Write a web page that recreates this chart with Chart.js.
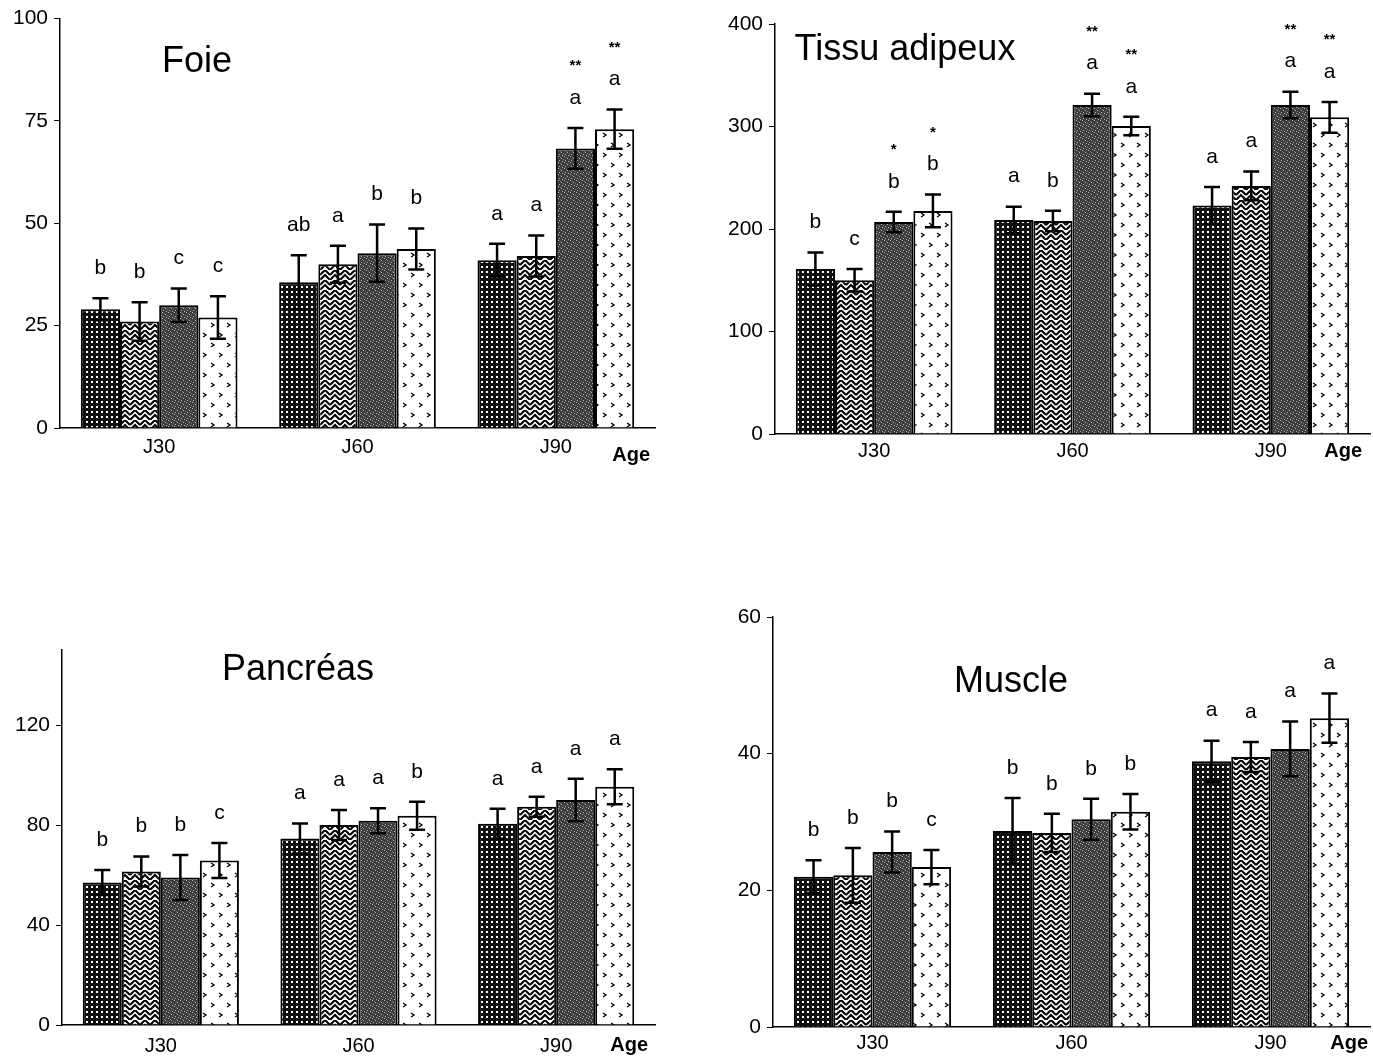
<!DOCTYPE html>
<html>
<head>
<meta charset="utf-8">
<title>Foie, Tissu adipeux, Pancréas, Muscle</title>
<script src="https://cdn.jsdelivr.net/npm/chart.js@4.4.1/dist/chart.umd.min.js"></script>
<style>
  body { margin: 0; background: #fff; }
  #wrap { position: relative; width: 1373px; height: 1058px; overflow: hidden; }
  canvas { position: absolute; }
</style>
</head>
<body>
<div id="wrap">
  <canvas id="foie" width="686" height="490" style="left:0;top:0"></canvas>
  <canvas id="tissu" width="687" height="490" style="left:686px;top:0"></canvas>
  <canvas id="pancreas" width="686" height="538" style="left:0;top:520px"></canvas>
  <canvas id="muscle" width="687" height="538" style="left:686px;top:520px"></canvas>
</div>
<script>
// age groups on the x axis
var ageGroups = ['J30', 'J60', 'J90'];

// one row per bar pattern (4 groups), one value per age
var foieMean = [[29, 35.6, 41], [26, 40, 42], [30, 42.7, 68.3], [27, 43.7, 73]];
var foieErr = [[2.7, 6.6, 4], [4.7, 4.5, 5], [4.1, 7, 5], [5.2, 5, 4.8]];
var foieLetters = [['b', 'ab', 'a'], ['b', 'a', 'a'], ['c', 'b', 'a'], ['c', 'b', 'a']];
var foieStars = [['', '', ''], ['', '', ''], ['', '', '**'], ['', '', '**']];

var tissuMean = [[161, 208.8, 223], [150, 207.8, 242], [206.8, 321, 321], [217.6, 300.5, 309]];
var tissuErr = [[16, 13, 18], [11, 10, 14], [10, 11, 13], [16, 9, 15]];
var tissuLetters = [['b', 'a', 'a'], ['c', 'b', 'a'], ['b', 'a', 'a'], ['b', 'a', 'a']];
var tissuStars = [['', '', ''], ['', '', ''], ['*', '**', '**'], ['*', '**', '**']];

var pancMean = [[57, 74.6, 80.5], [61.4, 80, 87.3], [59, 81.7, 90], [65.8, 83.7, 95.3]];
var pancErr = [[5, 6, 6], [6, 6, 4], [9, 5, 8.5], [7, 5.6, 7]];
var pancLetters = [['b', 'a', 'a'], ['b', 'a', 'a'], ['b', 'a', 'a'], ['c', 'b', 'a']];

var muscleMean = [[22, 28.7, 38.9], [22.2, 28.4, 39.5], [25.6, 30.4, 40.7], [23.4, 31.5, 45.2]];
var muscleErr = [[2.4, 4.8, 3], [4, 2.8, 2.2], [3, 3, 4], [2.5, 2.6, 3.6]];
var muscleLetters = [['b', 'b', 'a'], ['b', 'b', 'a'], ['b', 'b', 'a'], ['c', 'b', 'a']];

// y axis ranges (max, step) per panel
var foieAxis = [100, 25];
var tissuAxis = [400, 100];
var pancAxis = [150, 40];
var muscleAxis = [60, 20];

Chart.defaults.font.family = '"Liberation Sans", Arial, sans-serif';
Chart.defaults.color = '#000';

// hatch-like fills, done with small tiles
function tile(w, h, draw) {
    var c = document.createElement('canvas');
    c.width = w; c.height = h;
    var g = c.getContext('2d');
    draw(g);
    return g.createPattern(c, 'repeat');
}

var patterns = [
    // black with white dots
    tile(5, 5, function(g) {
        g.fillStyle = '#111'; g.fillRect(0, 0, 5, 5);
        g.fillStyle = '#fff'; g.fillRect(1, 1, 2, 2);
    }),
    // zigzag / herringbone
    tile(10, 10, function(g) {
        g.fillStyle = '#fff'; g.fillRect(0, 0, 10, 10);
        g.strokeStyle = '#000'; g.lineWidth = 2;
        g.beginPath();
        g.moveTo(0, 5); g.lineTo(5, 0); g.lineTo(10, 5);
        g.moveTo(0, 10); g.lineTo(5, 5); g.lineTo(10, 10);
        g.stroke();
    }),
    // dark grey stipple
    tile(6, 6, function(g) {
        g.fillStyle = '#3c3c3c'; g.fillRect(0, 0, 6, 6);
        g.fillStyle = '#bbb';
        g.fillRect(0, 0, 1, 1); g.fillRect(3, 2, 1, 1);
        g.fillRect(1, 4, 1, 1); g.fillRect(4, 5, 1, 1);
        g.fillStyle = '#777';
        g.fillRect(2, 1, 1, 1); g.fillRect(5, 3, 1, 1);
    }),
    // white with sparse little marks
    tile(16, 20, function(g) {
        g.fillStyle = '#fff'; g.fillRect(0, 0, 16, 20);
        g.strokeStyle = '#000'; g.lineWidth = 1.3;
        g.beginPath();
        g.moveTo(3, 3); g.lineTo(6, 5); g.lineTo(3, 7);
        g.moveTo(11, 13); g.lineTo(14, 15); g.lineTo(11, 17);
        g.stroke();
    })
];

// error bars, letters, stars, title and "Age"
var annotPlugin = {
    id: 'annot',
    afterDatasetsDraw: function(chart) {
        var o = chart.options.plugins.annot;
        var ctx = chart.ctx, ys = chart.scales.y;
        ctx.save();
        chart.data.datasets.forEach(function(ds, i) {
            chart.getDatasetMeta(i).data.forEach(function(bar, j) {
                var v = ds.data[j], e = o.err[i][j];
                var top = ys.getPixelForValue(v + e), bot = ys.getPixelForValue(v - e);
                ctx.strokeStyle = '#000';
                ctx.lineWidth = 2.5;
                ctx.beginPath();
                ctx.moveTo(bar.x, top); ctx.lineTo(bar.x, bot);
                ctx.moveTo(bar.x - 8, top); ctx.lineTo(bar.x + 8, top);
                ctx.moveTo(bar.x - 8, bot); ctx.lineTo(bar.x + 8, bot);
                ctx.stroke();
                ctx.fillStyle = '#000';
                ctx.textAlign = 'center';
                ctx.textBaseline = 'middle';
                ctx.font = '21px "Liberation Sans", Arial, sans-serif';
                ctx.fillText(o.letters[i][j], bar.x, top - 30);
                if (o.stars && o.stars[i][j]) {
                    ctx.font = 'bold 15px "Liberation Sans", Arial, sans-serif';
                    ctx.fillText(o.stars[i][j], bar.x, top - 62);
                }
            });
        });
        ctx.restore();
    },
    afterDraw: function(chart) {
        var o = chart.options.plugins.annot, a = chart.chartArea, ctx = chart.ctx;
        ctx.save();
        ctx.fillStyle = '#000';
        ctx.textBaseline = 'middle';
        ctx.textAlign = 'center';
        ctx.font = '36px "Liberation Sans", Arial, sans-serif';
        ctx.fillText(o.title, o.titleX, o.titleY);
        ctx.textAlign = 'right';
        ctx.font = 'bold 20px "Liberation Sans", Arial, sans-serif';
        ctx.fillText('Age', a.right - o.ageDx, a.bottom + o.ageDy);
        ctx.restore();
    }
};

function makeChart(id, p) {
    var cv = document.getElementById(id);
    var W = cv.width, H = cv.height, a = p.area;
    return new Chart(cv, {
        type: 'bar',
        data: {
            labels: ageGroups,
            datasets: p.mean.map(function(m, i) {
                return {
                    data: m,
                    backgroundColor: patterns[i],
                    borderColor: '#000',
                    borderWidth: 2,
                    categoryPercentage: 0.79,
                    barPercentage: 1
                };
            })
        },
        options: {
            responsive: false,
            animation: false,
            layout: { padding: { left: 0, top: a.top, right: W - a.right, bottom: 0 } },
            plugins: {
                legend: { display: false },
                tooltip: { enabled: false },
                annot: p
            },
            scales: {
                x: {
                    grid: { drawOnChartArea: false, drawTicks: false },
                    border: { color: '#000', width: 1.5 },
                    ticks: { color: '#000', font: { size: 20 }, padding: p.xPad },
                    afterFit: function(s) { s.height = H - a.bottom; }
                },
                y: {
                    min: 0,
                    max: p.axis[0],
                    grid: { drawOnChartArea: false, color: '#000', tickLength: 6 },
                    border: { color: '#000', width: 1.5 },
                    ticks: { stepSize: p.axis[1], color: '#000', font: { size: 21 }, padding: 6 },
                    afterBuildTicks: function(s) {
                        s.ticks = s.ticks.filter(function(t) { return t.value % p.axis[1] === 0; });
                    },
                    afterFit: function(s) { s.width = a.left; }
                }
            }
        },
        plugins: [annotPlugin]
    });
}

makeChart('foie', {
    mean: foieMean, err: foieErr, letters: foieLetters, stars: foieStars, axis: foieAxis,
    title: 'Foie', titleX: 197, titleY: 62,
    area: { left: 60, top: 18, right: 655, bottom: 428 }, xPad: 7, ageDx: 5, ageDy: 27
});
makeChart('tissu', {
    mean: tissuMean, err: tissuErr, letters: tissuLetters, stars: tissuStars, axis: tissuAxis,
    title: 'Tissu adipeux', titleX: 219, titleY: 50,
    area: { left: 89, top: 24, right: 684, bottom: 434 }, xPad: 5, ageDx: 8, ageDy: 17
});
makeChart('pancreas', {
    mean: pancMean, err: pancErr, letters: pancLetters, axis: pancAxis,
    title: 'Pancréas', titleX: 298, titleY: 150,
    area: { left: 62, top: 130, right: 655, bottom: 505 }, xPad: 9, ageDx: 7, ageDy: 20
});
makeChart('muscle', {
    mean: muscleMean, err: muscleErr, letters: muscleLetters, axis: muscleAxis,
    title: 'Muscle', titleX: 325, titleY: 162,
    area: { left: 87, top: 97, right: 684, bottom: 507 }, xPad: 4, ageDx: 2, ageDy: 16
});
</script>
</body>
</html>
